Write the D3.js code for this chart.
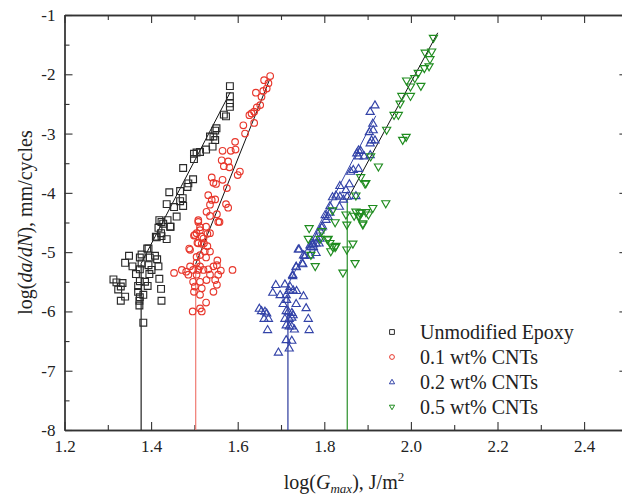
<!DOCTYPE html>
<html>
<head>
<meta charset="utf-8">
<script src="https://cdn.jsdelivr.net/npm/d3@7"></script>
<style>
  body { margin: 0; background: #fff; }
  svg { display: block; font-family: "Liberation Serif", "Times New Roman", serif; }
  svg text { font-family: "Liberation Serif", "Times New Roman", serif; }
</style>
</head>
<body>
<svg id="chart"></svg>
<script>
// Data (log G_max, log da/dN)
const seriesNames = ['Unmodified Epoxy', '0.1 wt% CNTs', '0.2 wt% CNTs', '0.5 wt% CNTs'];

const epoxyPts = [
  [1.582,-2.20],[1.582,-2.37],[1.582,-2.49],[1.582,-2.55],[1.568,-2.68],[1.573,-2.71],[1.551,-2.91],[1.548,-2.95],
  [1.536,-3.05],[1.544,-3.05],[1.548,-3.11],[1.542,-3.22],[1.527,-3.27],[1.513,-3.31],[1.505,-3.32],[1.499,-3.34],
  [1.499,-3.43],[1.474,-3.58],[1.497,-3.77],[1.486,-3.84],[1.484,-3.90],[1.467,-3.97],[1.442,-3.99],[1.473,-4.09],
  [1.467,-4.14],[1.474,-4.22],[1.436,-4.19],[1.453,-4.24],[1.459,-4.40],[1.419,-4.46],[1.438,-4.46],[1.428,-4.52],
  [1.417,-4.59],[1.445,-4.57],[1.423,-4.68],[1.411,-4.74],[1.424,-4.73],[1.436,-4.78],[1.391,-4.94],
  [1.424,-4.49],[1.444,-4.57],[1.413,-4.75],
  [1.394,-4.94],[1.349,-5.06],[1.378,-5.04],[1.340,-5.18],[1.357,-5.24],[1.374,-5.09],[1.397,-5.09],[1.409,-5.06],
  [1.414,-5.12],[1.378,-5.19],[1.394,-5.22],[1.417,-5.24],[1.401,-5.30],[1.374,-5.29],[1.365,-5.37],[1.396,-5.37],
  [1.313,-5.46],[1.320,-5.51],[1.334,-5.52],[1.330,-5.58],[1.324,-5.63],[1.374,-5.49],[1.386,-5.50],[1.419,-5.45],
  [1.370,-5.57],[1.392,-5.57],[1.423,-5.62],[1.370,-5.67],[1.382,-5.72],[1.374,-5.76],[1.340,-5.75],[1.330,-5.82],
  [1.373,-5.82],[1.424,-5.82],[1.373,-5.90],[1.382,-6.19]
];

const cnt01Pts = [
  [1.675,-2.03],[1.661,-2.10],[1.671,-2.15],[1.642,-2.31],[1.659,-2.28],[1.667,-2.24],[1.655,-2.38],[1.652,-2.52],
  [1.644,-2.56],[1.638,-2.63],[1.632,-2.66],[1.627,-2.69],[1.638,-2.82],[1.613,-2.86],[1.617,-3.00],[1.594,-3.14],
  [1.584,-3.29],[1.565,-3.29],[1.595,-3.27],[1.563,-3.45],[1.578,-3.47],[1.568,-3.55],[1.581,-3.57],[1.605,-3.64],
  [1.600,-3.70],[1.540,-3.74],[1.544,-3.83],[1.565,-3.78],[1.550,-3.85],[1.575,-3.92],[1.532,-4.04],[1.548,-4.11],
  [1.540,-4.12],[1.536,-4.20],[1.573,-4.19],[1.578,-4.25],[1.528,-4.32],[1.552,-4.36],[1.536,-4.39],[1.558,-4.49],
  [1.509,-4.46],[1.513,-4.58],[1.527,-4.57],[1.505,-4.68],[1.536,-4.68],[1.517,-4.74],[1.499,-4.72],[1.509,-4.85],
  [1.522,-4.85],[1.488,-4.94],
  [1.509,-4.49],[1.555,-4.49],[1.513,-4.63],[1.530,-4.69],[1.501,-4.71],[1.521,-4.77],[1.507,-4.84],[1.517,-4.86],
  [1.530,-4.90],[1.490,-4.96],[1.524,-4.99],[1.536,-4.99],[1.505,-5.08],[1.513,-5.05],[1.527,-5.09],[1.553,-5.14],
  [1.505,-5.18],[1.490,-5.24],[1.513,-5.24],[1.471,-5.30],[1.481,-5.33],[1.453,-5.35],[1.497,-5.30],[1.509,-5.30],
  [1.521,-5.30],[1.532,-5.29],[1.544,-5.24],[1.552,-5.22],[1.561,-5.31],[1.588,-5.30],[1.486,-5.38],[1.505,-5.38],
  [1.536,-5.38],[1.555,-5.38],[1.497,-5.50],[1.513,-5.50],[1.528,-5.47],[1.548,-5.47],[1.501,-5.58],[1.517,-5.61],
  [1.552,-5.55],[1.544,-5.67],[1.499,-5.67],[1.513,-5.72],[1.527,-5.85],[1.513,-5.95],[1.496,-6.00],[1.517,-6.00]
];

const cnt02Pts = [
  [1.917,-2.52],[1.906,-2.63],[1.912,-2.83],[1.913,-2.94],[1.904,-2.97],[1.909,-3.11],[1.917,-3.11],[1.906,-3.16],
  [1.879,-3.28],[1.884,-3.29],[1.875,-3.33],[1.892,-3.38],[1.879,-3.38],[1.906,-3.36],[1.867,-3.61],[1.879,-3.59],
  [1.861,-3.64],[1.858,-3.85],[1.836,-3.88],[1.850,-3.95],[1.836,-4.06],[1.819,-4.07],[1.827,-4.04],[1.853,-4.06],
  [1.873,-4.05],[1.844,-4.11],[1.835,-4.23],[1.813,-4.33],[1.809,-4.40],[1.796,-4.56],[1.790,-4.63],[1.740,-4.95],
  [1.752,-5.05],[1.767,-4.88],[1.775,-4.91],[1.788,-4.85],[1.781,-5.01],
  [1.813,-4.22],[1.802,-4.37],[1.804,-4.45],[1.794,-4.58],[1.782,-4.75],[1.775,-4.86],[1.769,-4.91],
  [1.750,-5.19],[1.735,-5.24],[1.727,-5.38],
  [1.790,-4.77],[1.773,-4.86],[1.781,-4.85],[1.742,-4.95],[1.767,-5.05],[1.755,-5.06],[1.735,-5.25],[1.750,-5.20],
  [1.727,-5.40],[1.688,-5.55],[1.709,-5.54],[1.721,-5.58],[1.719,-5.65],[1.728,-5.64],[1.736,-5.65],[1.681,-5.68],
  [1.698,-5.72],[1.712,-5.72],[1.752,-5.74],[1.713,-5.80],[1.705,-5.87],[1.735,-5.87],[1.758,-5.94],[1.650,-5.95],
  [1.655,-5.99],[1.663,-6.00],[1.667,-6.03],[1.712,-5.99],[1.717,-6.00],[1.725,-6.02],[1.728,-6.06],[1.661,-6.12],
  [1.671,-6.12],[1.709,-6.12],[1.719,-6.12],[1.725,-6.10],[1.763,-6.12],[1.712,-6.23],[1.719,-6.25],[1.725,-6.25],
  [1.731,-6.30],[1.669,-6.31],[1.765,-6.31],[1.712,-6.48],[1.725,-6.49],[1.719,-6.62],[1.694,-6.69]
];

const cnt05Pts = [
  [2.052,-1.39],[2.033,-1.64],[2.048,-1.62],[2.044,-1.75],[2.031,-1.90],[2.042,-1.87],[2.017,-1.98],[2.009,-2.07],
  [2.023,-2.20],[1.990,-2.11],[1.999,-2.21],[1.979,-2.37],[1.999,-2.37],[1.975,-2.50],[1.961,-2.69],[1.971,-2.69],
  [1.944,-2.94],[1.989,-3.06],[1.981,-3.11],[1.907,-3.39],[1.925,-3.56],[1.884,-3.74],[1.894,-3.85],[1.942,-4.18],
  [1.912,-4.26],[1.896,-4.33],[1.882,-4.34],[1.873,-4.32],[1.850,-4.37],[1.869,-4.39],[1.881,-4.40],[1.902,-4.37],
  [1.889,-4.52],[1.852,-4.54],[1.825,-4.50],[1.819,-4.30],[1.765,-4.60],[1.794,-4.65],[1.809,-4.78],[1.790,-4.78],
  [1.813,-4.85],[1.827,-4.90],[1.815,-4.99],[1.769,-5.05],[1.866,-4.86],[1.852,-4.96],
  [1.886,-4.33],[1.879,-4.40],[1.889,-4.54],[1.763,-4.78],[1.807,-4.79],[1.819,-4.91],[1.825,-4.92],
  [1.779,-5.24],[1.871,-5.19],[1.843,-5.35],[1.873,-4.05],[1.896,-3.84]
];

// fitted lines: threshold (vertical) + power-law segment
const thresholdX = [1.377, 1.503, 1.716, 1.853];
const kneeY = [-5.19, -5.20, -5.55, -4.12];
const fitTopX = [1.583, 1.673, 1.919, 2.062];
const fitTopY = [-2.30, -2.10, -2.70, -1.30];

const xMajor = [1.2, 1.4, 1.6, 1.8, 2.0, 2.2, 2.4];
const xMinor = [1.3, 1.5, 1.7, 1.9, 2.1, 2.3, 2.5];
const yMajor = [-1, -2, -3, -4, -5, -6, -7, -8];
const yMinor = [-1.5, -2.5, -3.5, -4.5, -5.5, -6.5, -7.5];

window.addEventListener('DOMContentLoaded', () => {
  let width = 622;
  let height = 503;
  let margin = {left: 64.5, top: 15, right: 627.4, bottom: 430};
  const serif = '"Liberation Serif", "Times New Roman", serif';

  let svg = d3.select('#chart')
    .attr('width', width)
    .attr('height', height);

  let xScale = d3.scaleLinear().domain([1.2, 2.5]).range([margin.left, margin.right]);
  let yScale = d3.scaleLinear().domain([-8, -1]).range([margin.bottom, margin.top]);

  const markColors = ['#2a2a2a', '#e8372c', '#3343a8', '#1f8c1f'];
  const vertColors = ['#222', '#f07a72', '#2b3a9c', '#2a8f2a'];
  const slopeColors = ['#111', '#111', '#3343a8', '#111'];

  // axes
  let axisStyle = g => {
    g.attr('font-family', serif);
    g.select('.domain').attr('stroke', '#333').attr('stroke-width', 1.3);
    g.selectAll('.tick line').attr('stroke', '#333').attr('stroke-width', 1.1);
    g.selectAll('text').attr('font-size', 17).attr('fill', '#222').attr('font-family', serif);
  };

  svg.append('g')
    .attr('transform', 'translate(0,' + margin.bottom + ')')
    .call(d3.axisBottom(xScale).tickValues(xMajor).tickSizeInner(-8).tickSizeOuter(0)
      .tickPadding(10).tickFormat(d3.format('.1f')))
    .call(axisStyle);
  svg.append('g')
    .attr('transform', 'translate(0,' + margin.bottom + ')')
    .call(d3.axisBottom(xScale).tickValues(xMinor).tickSizeInner(-5).tickSizeOuter(0).tickFormat(''))
    .call(axisStyle);
  svg.append('g')
    .attr('transform', 'translate(0,' + margin.top + ')')
    .call(d3.axisTop(xScale).tickValues(xMajor).tickSizeInner(-8).tickSizeOuter(0).tickFormat(''))
    .call(axisStyle);
  svg.append('g')
    .attr('transform', 'translate(0,' + margin.top + ')')
    .call(d3.axisTop(xScale).tickValues(xMinor).tickSizeInner(-5).tickSizeOuter(0).tickFormat(''))
    .call(axisStyle);
  svg.append('g')
    .attr('transform', 'translate(' + margin.left + ',0)')
    .call(d3.axisLeft(yScale).tickValues(yMajor).tickSizeInner(-8).tickSizeOuter(0)
      .tickPadding(9).tickFormat(d => String(d)))
    .call(axisStyle);
  svg.append('g')
    .attr('transform', 'translate(' + margin.left + ',0)')
    .call(d3.axisLeft(yScale).tickValues(yMinor).tickSizeInner(-5).tickSizeOuter(0).tickFormat(''))
    .call(axisStyle);
  svg.append('g')
    .attr('transform', 'translate(' + margin.right + ',0)')
    .call(d3.axisRight(yScale).tickValues(yMajor).tickSizeInner(-8).tickSizeOuter(0).tickFormat(''))
    .call(axisStyle);

  // axis titles
  svg.append('text')
    .attr('x', 344).attr('y', 489)
    .attr('text-anchor', 'middle')
    .attr('font-size', 20).attr('fill', '#222')
    .call(t => {
      t.append('tspan').text('log(');
      t.append('tspan').attr('font-style', 'italic').text('G');
      t.append('tspan').attr('font-style', 'italic').attr('font-size', 13).attr('dy', 4).text('max');
      t.append('tspan').attr('dy', -4).text('), J/m');
      t.append('tspan').attr('font-size', 13).attr('dy', -8).text('2');
    });

  svg.append('text')
    .attr('transform', 'translate(32,' + ((margin.top + margin.bottom) / 2) + ') rotate(-90)')
    .attr('text-anchor', 'middle')
    .attr('font-size', 20).attr('fill', '#222')
    .call(t => {
      t.append('tspan').text('log(');
      t.append('tspan').attr('font-style', 'italic').text('da/dN');
      t.append('tspan').text('), mm/cycles');
    });

  // fit lines
  let plot = svg.append('g');
  thresholdX.forEach((tx, i) => {
    plot.append('line')
      .attr('x1', xScale(tx)).attr('x2', xScale(tx))
      .attr('y1', yScale(-8)).attr('y2', yScale(kneeY[i]))
      .attr('stroke', vertColors[i]).attr('stroke-width', 1.2);
    plot.append('line')
      .attr('x1', xScale(tx)).attr('y1', yScale(kneeY[i]))
      .attr('x2', xScale(fitTopX[i])).attr('y2', yScale(fitTopY[i]))
      .attr('stroke', slopeColors[i]).attr('stroke-width', 1);
  });

  // markers
  let circlePath = s => {
    let p = d3.path();
    p.moveTo(s, 0);
    p.arc(0, 0, s, 0, 2 * Math.PI);
    p.closePath();
    return p.toString();
  };
  const shapes = [
    s => 'M' + (-s) + ',' + (-s) + 'H' + s + 'V' + s + 'H' + (-s) + 'Z',
    circlePath,
    s => 'M0,' + (-s * 1.15) + 'L' + (s * 1.1) + ',' + (s * 0.75) + 'L' + (-s * 1.1) + ',' + (s * 0.75) + 'Z',
    s => 'M0,' + (s * 1.15) + 'L' + (s * 1.1) + ',' + (-s * 0.75) + 'L' + (-s * 1.1) + ',' + (-s * 0.75) + 'Z'
  ];
  const markSize = [3.4, 3.3, 3.7, 3.7];

  [epoxyPts, cnt01Pts, cnt02Pts, cnt05Pts].forEach((pts, i) => {
    plot.append('g').selectAll('path')
      .data(pts)
      .enter()
      .append('path')
      .attr('transform', d => 'translate(' + xScale(d[0]) + ',' + yScale(d[1]) + ')')
      .attr('d', shapes[i](markSize[i]))
      .attr('fill', 'none')
      .attr('stroke', markColors[i])
      .attr('stroke-width', 1.15);
  });

  // legend
  let legend = svg.append('g');
  seriesNames.forEach((name, i) => {
    let ly = 332 + i * 25;
    legend.append('path')
      .attr('transform', 'translate(392,' + ly + ')')
      .attr('d', shapes[i](2.4))
      .attr('fill', 'none')
      .attr('stroke', markColors[i])
      .attr('stroke-width', 1);
    legend.append('text')
      .attr('x', 420).attr('y', ly).attr('dy', '0.35em')
      .attr('font-size', 20).attr('fill', '#222')
      .text(name);
  });
});
</script>
</body>
</html>
